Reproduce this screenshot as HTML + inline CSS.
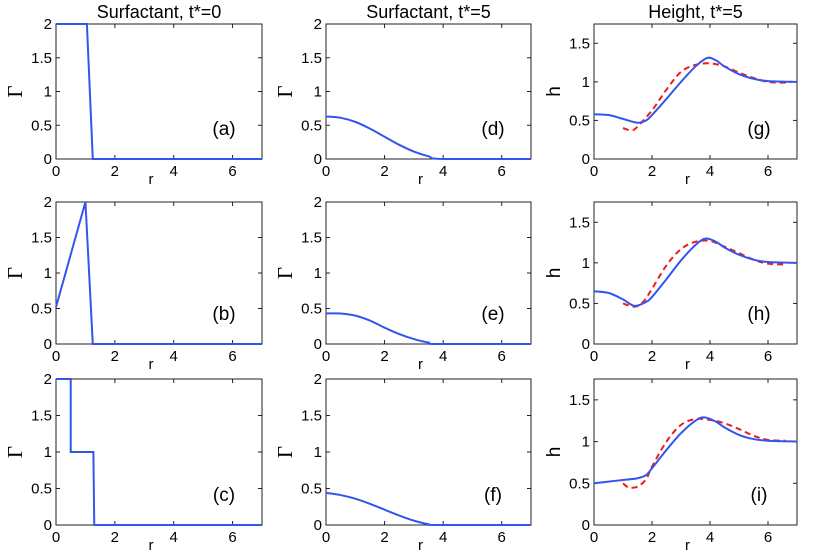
<!DOCTYPE html>
<html><head><meta charset="utf-8"><style>
body{margin:0;background:#fff;}
svg{display:block;font-family:"Liberation Sans",sans-serif;}
</style></head><body>
<svg id="fig" width="831" height="555" viewBox="0 0 831 555"></svg>
<script>
const rA=[0,1.05,1.25,7], gA=[2,2,0,0];
const rB=[0,1,1.25,7], gB=[0.52,2,0,0];
const rC=[0,0.5,0.5,1.27,1.3,7], gC=[2,2,1,1,0,0];
const rD=[0,0.5,1,1.5,2,2.5,3,3.5,4,7], gD=[0.63,0.61,0.55,0.45,0.33,0.21,0.11,0.04,0,0];
const rE=[0,0.5,1,1.5,2,2.5,3,3.5,3.8,7], gE=[0.43,0.43,0.4,0.33,0.23,0.14,0.07,0.02,0,0];
const rF=[0,0.5,1,1.5,2,2.5,3,3.5,3.8,7], gF=[0.44,0.41,0.36,0.29,0.21,0.13,0.06,0.01,0,0];
const rG=[0,0.5,1,1.5,1.8,2,2.5,3,3.5,3.9,4.2,4.5,5,5.5,6,7], hG=[0.58,0.57,0.52,0.47,0.5,0.57,0.78,1.0,1.2,1.31,1.28,1.2,1.1,1.04,1.01,1.0];
const rGd=[1,1.3,1.5,2,2.5,3,3.5,4,4.5,5,5.5,6,6.5,6.8], hGd=[0.4,0.37,0.42,0.63,0.9,1.13,1.22,1.24,1.2,1.12,1.05,1.0,0.99,1.0];
const rH=[0,0.5,1,1.4,1.8,2,2.5,3,3.5,3.85,4.2,4.5,5,5.5,6,7], hH=[0.65,0.63,0.55,0.47,0.52,0.58,0.8,1.03,1.22,1.3,1.26,1.19,1.1,1.04,1.01,1.0];
const rHd=[1,1.4,1.7,2,2.5,3,3.5,4,4.5,5,5.5,6,6.6], hHd=[0.5,0.46,0.52,0.68,0.97,1.17,1.26,1.27,1.2,1.12,1.04,0.99,0.98];
const rI=[0,0.5,1,1.5,1.8,2,2.5,3,3.5,3.8,4.2,4.5,5,5.5,6,7], hI=[0.5,0.52,0.54,0.56,0.6,0.68,0.9,1.1,1.25,1.29,1.24,1.17,1.08,1.03,1.01,1.0];
const rId=[1,1.2,1.5,1.8,2,2.5,3,3.5,4,4.5,5,5.5,6,6.6], hId=[0.5,0.45,0.46,0.55,0.7,1.0,1.2,1.27,1.26,1.22,1.15,1.07,1.02,1.01];
const gTicks=[0,0.5,1,1.5,2], gTickLabels=["0","0.5","1","1.5","2"];
const hTicks=[0,0.5,1,1.5], hTickLabels=["0","0.5","1","1.5"];
const xTicks=[0,2,4,6], xTickLabels=["0","2","4","6"];
const titles=["Surfactant, t*=0","Surfactant, t*=5","Height, t*=5"];

const NS="http://www.w3.org/2000/svg";
const svg=document.getElementById('fig');
function mk(tag,attrs,parent){const e=document.createElementNS(NS,tag);for(const k in attrs)e.setAttribute(k,attrs[k]);(parent||svg).appendChild(e);return e;}
const cols=[[56,262],[326,531],[594,797]];
const rows=[[24,159],[202,344],[379,525]];
const panels=[
 {c:0,r:0,lab:"(a)",type:"g",s:[[rA,gA,0,false]]},
 {c:0,r:1,lab:"(b)",type:"g",s:[[rB,gB,0,false]]},
 {c:0,r:2,lab:"(c)",type:"g",s:[[rC,gC,0,false]]},
 {c:1,r:0,lab:"(d)",type:"g",s:[[rD,gD,0,true]]},
 {c:1,r:1,lab:"(e)",type:"g",s:[[rE,gE,0,true]]},
 {c:1,r:2,lab:"(f)",type:"g",s:[[rF,gF,0,true]]},
 {c:2,r:0,lab:"(g)",type:"h",s:[[rGd,hGd,1,true],[rG,hG,0,true]]},
 {c:2,r:1,lab:"(h)",type:"h",s:[[rHd,hHd,1,true],[rH,hH,0,true]]},
 {c:2,r:2,lab:"(i)",type:"h",s:[[rId,hId,1,true],[rI,hI,0,true]]},
];
function smoothPath(pts,ymaxPix){
 let d="M"+pts[0][0]+","+pts[0][1];
 for(let i=0;i<pts.length-1;i++){
  const p0=pts[i-1]||pts[i],p1=pts[i],p2=pts[i+1],p3=pts[i+2]||p2;
  const c1=[p1[0]+(p2[0]-p0[0])/6,Math.min(ymaxPix,p1[1]+(p2[1]-p0[1])/6)];
  const c2=[p2[0]-(p3[0]-p1[0])/6,Math.min(ymaxPix,p2[1]-(p3[1]-p1[1])/6)];
  d+=" C"+c1[0]+","+c1[1]+" "+c2[0]+","+c2[1]+" "+p2[0]+","+p2[1];
 }
 return d;
}
titles.forEach((t,i)=>{
 const tx=mk('text',{x:(cols[i][0]+cols[i][1])/2,y:18,'text-anchor':'middle','font-size':18,fill:'#000'});
 
 
 tx.textContent=t;
});
panels.forEach(p=>{
 const [x0,x1]=cols[p.c],[y0,y1]=rows[p.r];
 const ymax=p.type=="g"?2:1.75;
 const X=v=>x0+(v/7)*(x1-x0);
 const Y=v=>y1-(v/ymax)*(y1-y0);
 const g=mk('g',{});
 
 
 mk('rect',{x:x0,y:y0,width:x1-x0,height:y1-y0,fill:'none',stroke:'#222','stroke-width':1},g);
 const yt=p.type=="g"?gTicks:hTicks, ytl=p.type=="g"?gTickLabels:hTickLabels;
 yt.forEach((v,i)=>{
  mk('line',{x1:x0,x2:x0+4,y1:Y(v),y2:Y(v),stroke:'#222'},g);
  mk('line',{x1:x1,x2:x1-4,y1:Y(v),y2:Y(v),stroke:'#222'},g);
  const t=mk('text',{x:x0-4,y:Y(v)+5,'text-anchor':'end','font-size':15},g);
  
  
  t.textContent=ytl[i];
 });
 xTicks.forEach((v,i)=>{
  mk('line',{x1:X(v),x2:X(v),y1:y1,y2:y1-4,stroke:'#222'},g);
  mk('line',{x1:X(v),x2:X(v),y1:y0,y2:y0+4,stroke:'#222'},g);
  const t=mk('text',{x:X(v),y:y1+17,'text-anchor':'middle','font-size':15},g);
  
  
  t.textContent=xTickLabels[i];
 });
 const xl=mk('text',{x:(x0+x1)/2-8,y:y1+25,'text-anchor':'middle','font-size':15},g);
 
 
 xl.textContent="r";
 const yl=mk('text',{x:0,y:0,'text-anchor':'middle','font-size':p.type=="g"?21:19,'font-family':p.type=="g"?'"Liberation Serif",serif':'"Liberation Sans",sans-serif',transform:`translate(${x0-34},${(y0+y1)/2}) rotate(-90)`},g);
 
 
 yl.textContent=p.type=="g"?"Γ":"h";
 p.s.forEach(([xs,ys,dash,smooth])=>{
  const pts=xs.map((v,i)=>[X(v),Y(ys[i])]);
  const d=smooth?smoothPath(pts,y1):"M"+pts.map(q=>q.join(",")).join(" L");
  const path=mk('path',{d:d,fill:'none',stroke:dash?'#ee1c1c':'#3355ee','stroke-width':2,'stroke-dasharray':dash?'6,4':'none'},g);
  
  
 });
 const lb=mk('text',{x:x1-38,y:y1-24,'text-anchor':'middle','font-size':19},g);
 
 
 lb.textContent=p.lab;
});
</script>
</body></html>
